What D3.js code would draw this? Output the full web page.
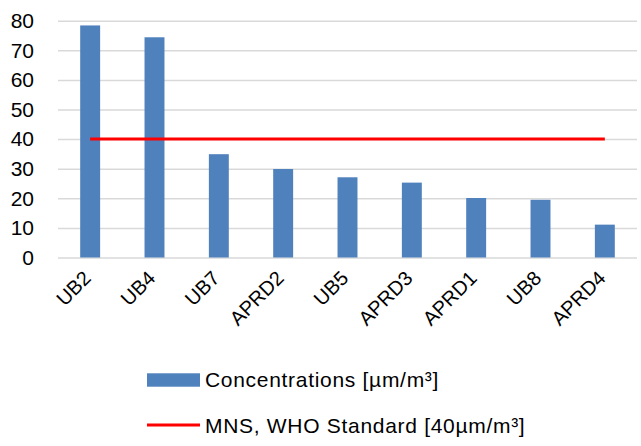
<!DOCTYPE html>
<html>
<head>
<meta charset="utf-8">
<script src="https://cdn.jsdelivr.net/npm/d3@7"></script>
<style>
  html, body { margin: 0; padding: 0; background: #fff; }
  svg { display: block; font-family: "Liberation Sans", Arial, sans-serif; }
</style>
</head>
<body>
<svg id="chart" width="641" height="446"></svg>
<script>
// Measurement sites, ordered by concentration
const sites = ["UB2", "UB4", "UB7", "APRD2", "UB5", "APRD3", "APRD1", "UB8", "APRD4"];
const concentrations = [78.4, 74.4, 34.9, 29.9, 27.1, 25.3, 20.1, 19.5, 11.1];
// Standard limit applied at every site
const standardLimit = [40, 40, 40, 40, 40, 40, 40, 40, 40];
const yTicks = [0, 10, 20, 30, 40, 50, 60, 70, 80];
const legendLabels = ["Concentrations [\u00b5m/m\u00b3]", "MNS, WHO Standard [40\u00b5m/m\u00b3]"];

const barColor = "#4F81BD";
const lineColor = "#FF0000";
const gridColor = "#D9D9D9";

const svg = d3.select("#chart");
const plot = { left: 58, right: 637, top: 20.7, bottom: 257.5 };

const x = d3.scaleBand().domain(sites).range([plot.left, plot.right]).paddingInner(0.69).paddingOuter(0.345);
const y = d3.scaleLinear().domain([0, 80]).range([plot.bottom, plot.top]);

// Horizontal gridlines with value labels
const yAxis = d3.axisLeft(y).tickValues(yTicks).tickSize(-(plot.right - plot.left)).tickPadding(24);
const gy = svg.append("g").attr("transform", `translate(${plot.left},0)`).call(yAxis);
gy.select(".domain").remove();
gy.selectAll(".tick line").attr("stroke", gridColor).attr("stroke-width", 1.5);
gy.selectAll(".tick text")
  .attr("fill", "#000")
  .attr("font-size", 21)
  .attr("font-family", "Liberation Sans, Arial, sans-serif");

// Bars
svg.append("g").selectAll("rect")
  .data(sites)
  .join("rect")
  .attr("x", d => x(d))
  .attr("width", x.bandwidth())
  .attr("y", (d, i) => y(concentrations[i]))
  .attr("height", (d, i) => y(0) - y(concentrations[i]))
  .attr("fill", barColor);

// Standard limit line through band centres
const line = d3.line()
  .x((d, i) => x(sites[i]) + x.bandwidth() / 2)
  .y(d => y(d));
svg.append("path")
  .datum(standardLimit)
  .attr("d", line)
  .attr("fill", "none")
  .attr("stroke", lineColor)
  .attr("stroke-width", 3);

// Category labels, rotated
const xAxis = d3.axisBottom(x).tickSize(0).tickPadding(0);
const gx = svg.append("g").attr("transform", `translate(0,${plot.bottom})`).call(xAxis);
gx.select(".domain").remove();
gx.selectAll(".tick text")
  .attr("fill", "#000")
  .attr("font-size", 20)
  .attr("font-family", "Liberation Sans, Arial, sans-serif")
  .attr("text-anchor", "end")
  .attr("dy", 0)
  .attr("transform", "translate(2,22) rotate(-45)");

// Legend
const legend = svg.append("g")
  .attr("font-size", 21)
  .attr("letter-spacing", 0.7)
  .attr("fill", "#000");
legend.append("rect")
  .attr("x", 147).attr("y", 373.3).attr("width", 53).attr("height", 13.4)
  .attr("fill", barColor);
legend.append("text")
  .attr("x", 205).attr("y", 387)
  .text(legendLabels[0]);
legend.append("line")
  .attr("x1", 147).attr("x2", 200).attr("y1", 425).attr("y2", 425)
  .attr("stroke", lineColor).attr("stroke-width", 3);
legend.append("text")
  .attr("x", 205).attr("y", 433)
  .text(legendLabels[1]);
</script>
</body>
</html>
